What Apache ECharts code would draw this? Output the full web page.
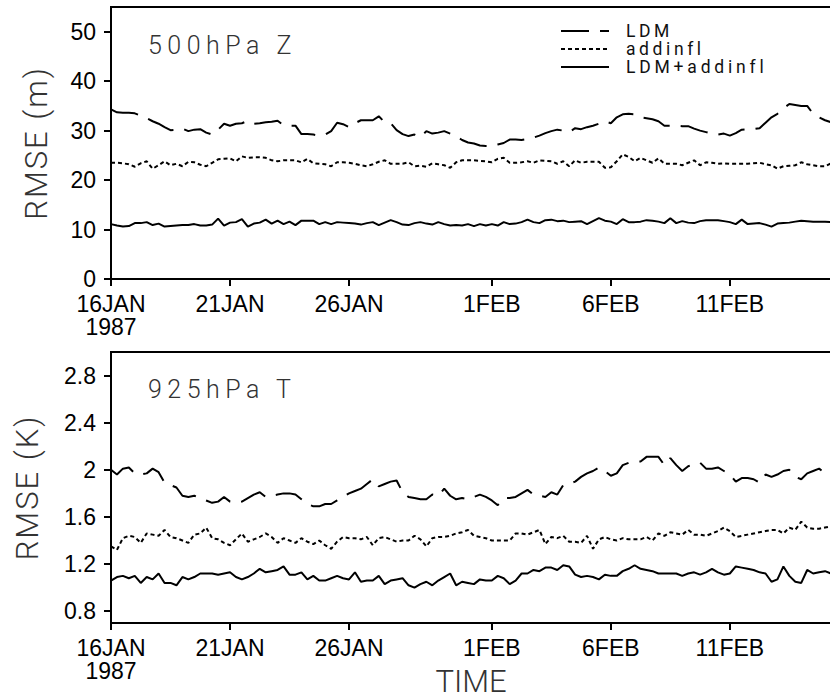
<!DOCTYPE html>
<html>
<head>
<meta charset="utf-8">
<script src="https://cdn.jsdelivr.net/npm/echarts@6/dist/echarts.min.js"></script>
<style>html,body{margin:0;padding:0;background:#fff;}#c{width:830px;height:698px;}</style>
</head>
<body>
<div id="c"></div>
<script>
// 6-hourly analysis times, 16JAN1987 00Z onward
const MON = ['JAN','FEB'];
const times = [];
for (let i = 0; i < 122; i++) {
  const d = new Date(Date.UTC(1987, 0, 16, 6 * i));
  times.push(String(d.getUTCHours()).padStart(2, '0') + 'Z' + d.getUTCDate() + MON[d.getUTCMonth()] + d.getUTCFullYear());
}
const tickTimes = ['00Z16JAN1987', '00Z21JAN1987', '00Z26JAN1987', '00Z1FEB1987', '00Z6FEB1987', '00Z11FEB1987'];
const tickLabels = ['16JAN\n1987', '21JAN', '26JAN', '1FEB', '6FEB', '11FEB'];

const zTicks = [0, 10, 20, 30, 40, 50];
const tTicks = [0.8, 1.2, 1.6, 2.0, 2.4, 2.8];

// 500hPa Z RMSE (m)
const zLDM = [34.3,33.7,33.6,33.6,33.5,33.0,32.5,31.9,31.4,30.7,30.1,30.2,30.4,29.9,30.2,30.3,29.6,29.2,30.2,31.4,
  31.0,31.4,31.5,32.0,31.4,31.5,31.7,31.8,32.0,31.1,31.0,31.0,29.3,29.3,29.2,29.0,29.2,29.9,31.6,31.3,
  30.7,31.5,32.1,32.1,32.1,32.9,31.7,31.5,30.1,29.3,28.9,29.2,28.7,29.9,29.4,29.6,29.9,29.4,28.9,28.1,
  27.6,27.4,27.0,26.9,26.9,27.2,27.5,28.2,28.2,28.1,28.3,28.6,29.0,29.5,29.9,30.2,30.0,29.7,30.5,30.3,
  30.7,31.0,31.4,31.9,31.5,32.7,33.3,33.4,33.3,32.7,32.5,32.3,31.9,31.0,31.0,31.0,30.9,30.9,30.4,30.0,
  29.7,29.4,29.2,29.4,29.0,29.5,30.2,30.3,30.3,30.5,31.6,32.7,33.4,34.5,35.4,35.2,35.0,35.0,33.4,32.7,
  32.1,31.7];
const zAdd = [23.5,23.5,23.4,23.2,22.7,23.4,23.8,22.3,23.0,23.8,23.0,23.3,22.8,23.7,23.6,23.1,22.8,23.5,24.2,24.3,
  24.4,23.8,24.8,24.5,24.6,24.6,24.5,24.0,23.8,24.0,24.0,24.0,23.6,24.3,23.4,23.3,23.2,22.8,23.6,23.6,
  23.5,23.3,23.0,22.8,23.2,23.7,24.0,23.3,23.3,23.3,23.6,22.8,22.9,22.7,23.4,23.2,23.0,22.5,23.6,24.0,
  24.0,24.0,23.9,23.8,23.6,24.3,24.5,23.5,23.5,23.6,23.8,23.5,24.0,23.9,23.8,23.3,23.8,22.8,24.0,23.5,
  23.7,23.7,23.7,22.5,22.6,23.8,25.2,24.7,23.8,24.5,24.0,23.5,24.4,23.3,23.3,23.3,23.0,23.5,24.0,23.0,
  23.6,23.5,23.3,23.4,23.3,23.3,23.3,23.3,23.4,23.5,23.2,23.0,22.3,22.8,22.9,23.0,23.6,23.2,23.0,22.8,
  22.8,23.4];
const zBoth = [11.1,10.8,10.6,10.7,11.3,11.3,11.5,10.9,11.2,10.6,10.7,10.8,10.9,10.9,11.1,10.8,10.8,11.0,12.2,10.8,
  11.4,11.5,12.1,10.6,11.2,11.4,12.0,11.2,11.8,11.1,11.6,10.9,11.8,11.8,11.8,11.1,11.5,11.1,11.5,11.4,
  11.3,11.2,11.0,11.3,11.5,10.9,11.4,11.9,11.5,11.0,10.9,11.3,11.5,11.2,11.0,11.5,11.1,10.8,10.9,10.8,
  11.1,10.7,11.1,10.8,11.1,10.8,11.5,11.1,11.2,11.5,12.0,11.5,11.3,11.9,12.0,11.7,11.8,11.5,11.6,11.7,
  11.1,11.7,12.3,11.8,11.6,11.1,12.1,11.5,11.5,11.6,11.9,11.8,11.6,11.3,12.3,11.3,11.7,11.4,11.3,11.7,
  11.9,11.9,11.9,11.7,11.5,11.1,12.0,11.1,11.2,11.3,11.0,10.6,11.2,11.3,11.4,11.6,11.8,11.7,11.6,11.6,
  11.6,11.5];

// 925hPa T RMSE (K)
const tLDM = [2.00,1.96,2.01,2.02,1.97,1.96,1.97,2.01,1.98,1.89,1.87,1.85,1.78,1.77,1.78,1.76,1.74,1.72,1.73,1.77,
  1.73,1.72,1.73,1.76,1.79,1.81,1.77,1.78,1.79,1.80,1.80,1.79,1.75,1.71,1.69,1.69,1.71,1.71,1.74,1.77,
  1.80,1.82,1.84,1.88,1.92,1.86,1.88,1.90,1.91,1.81,1.77,1.76,1.75,1.75,1.79,1.78,1.84,1.78,1.75,1.76,
  1.75,1.77,1.79,1.77,1.74,1.70,1.76,1.76,1.77,1.80,1.83,1.79,1.78,1.77,1.81,1.79,1.87,1.88,1.90,1.94,
  1.97,1.99,2.02,1.99,1.95,1.97,2.04,2.06,2.07,2.07,2.11,2.11,2.11,2.04,2.10,2.04,1.99,2.03,2.05,2.06,
  2.01,2.01,2.02,1.99,1.96,1.90,1.93,1.93,1.92,1.89,1.96,1.94,1.96,1.99,2.00,1.94,1.92,1.97,1.99,2.01,
  1.97,1.98];
const tAdd = [1.35,1.32,1.42,1.44,1.43,1.38,1.46,1.45,1.44,1.49,1.43,1.42,1.40,1.38,1.45,1.46,1.51,1.42,1.41,1.38,
  1.36,1.41,1.46,1.39,1.41,1.43,1.46,1.43,1.38,1.42,1.40,1.38,1.42,1.39,1.37,1.40,1.36,1.33,1.39,1.43,
  1.42,1.42,1.41,1.43,1.36,1.42,1.43,1.41,1.39,1.40,1.40,1.44,1.41,1.35,1.42,1.43,1.43,1.44,1.46,1.47,
  1.49,1.44,1.43,1.42,1.40,1.40,1.40,1.40,1.46,1.46,1.45,1.47,1.49,1.37,1.43,1.42,1.44,1.39,1.39,1.38,
  1.44,1.33,1.41,1.43,1.41,1.40,1.42,1.41,1.41,1.41,1.43,1.40,1.46,1.44,1.47,1.46,1.45,1.49,1.45,1.45,
  1.44,1.46,1.48,1.51,1.48,1.43,1.44,1.45,1.46,1.47,1.48,1.49,1.49,1.46,1.51,1.49,1.56,1.51,1.50,1.50,
  1.51,1.52];
const tBoth = [1.06,1.09,1.10,1.08,1.10,1.04,1.09,1.07,1.12,1.04,1.04,1.02,1.09,1.07,1.09,1.12,1.12,1.12,1.11,1.12,
  1.13,1.09,1.07,1.09,1.12,1.16,1.13,1.14,1.15,1.18,1.11,1.11,1.13,1.07,1.10,1.06,1.06,1.08,1.10,1.08,
  1.07,1.13,1.05,1.06,1.06,1.10,1.03,1.06,1.07,1.08,1.02,1.00,1.03,1.05,1.02,1.06,1.09,1.12,1.02,1.05,
  1.04,1.03,1.07,1.06,1.06,1.10,1.08,1.03,1.06,1.12,1.12,1.15,1.14,1.17,1.17,1.15,1.19,1.18,1.11,1.09,
  1.10,1.09,1.07,1.11,1.10,1.10,1.14,1.16,1.19,1.16,1.15,1.14,1.12,1.12,1.12,1.12,1.10,1.12,1.13,1.11,
  1.13,1.16,1.13,1.11,1.12,1.18,1.17,1.16,1.15,1.13,1.12,1.05,1.07,1.18,1.10,1.05,1.04,1.15,1.12,1.13,
  1.14,1.12];

const LABEL_FONT = 'Liberation Sans';
const NAME_FONT = 'Roboto';
const isTick = (idx, val) => tickTimes.indexOf(val) >= 0;

function xAxisCfg(k) {
  return {
    type: 'category', gridIndex: k, data: times, boundaryGap: false,
    axisLine: { lineStyle: { color: '#000', width: 2 } },
    axisTick: { show: true, length: 7, interval: isTick, lineStyle: { color: '#000', width: 2 } },
    axisLabel: {
      interval: isTick, margin: 13, fontSize: 23, lineHeight: 23.5, color: '#000', fontFamily: LABEL_FONT,
      formatter: v => tickLabels[tickTimes.indexOf(v)]
    },
    splitLine: { show: false },
    name: k === 1 ? 'TIME' : '', nameLocation: 'middle', nameGap: 45, nameMoveOverlap: false,
    nameTextStyle: { fontSize: 31, lineHeight: 26, color: '#333', fontFamily: NAME_FONT, fontWeight: 300 }
  };
}
function yAxisCfg(k, min, max, ticks, name, gap, fmt) {
  return {
    type: 'value', gridIndex: k, min: min, max: max,
    axisLine: { show: true, lineStyle: { color: '#000', width: 2 } },
    axisTick: { show: true, length: 7, customValues: ticks, lineStyle: { color: '#000', width: 2 } },
    axisLabel: { customValues: ticks, margin: 15, fontSize: 23, lineHeight: 20, color: '#000', fontFamily: LABEL_FONT, formatter: fmt },
    splitLine: { show: false },
    name: name, nameLocation: 'middle', nameGap: gap, nameRotate: 90, nameMoveOverlap: false,
    nameTextStyle: { fontSize: 31, color: '#333', fontFamily: NAME_FONT, fontWeight: 300 }
  };
}
const styles = {
  LDM: { color: '#000', width: 2, type: [28, 11] },
  addinfl: { color: '#000', width: 2, type: [4, 3] },
  'LDM+addinfl': { color: '#000', width: 2, type: 'solid' }
};
function ser(name, k, data) {
  return {
    name: name, type: 'line', xAxisIndex: k, yAxisIndex: k, data: data,
    symbol: 'none', showSymbol: false, color: '#000', lineStyle: styles[name], z: 3
  };
}
function leg(name, top) {
  return {
    data: [name], left: 560, top: top, padding: 0, itemWidth: 48, itemHeight: 2,
    selectedMode: false,
    itemStyle: { opacity: 0 },
    lineStyle: { width: 2 },
    textStyle: { fontSize: 17.5, lineHeight: 17, color: '#111', fontFamily: NAME_FONT, padding: [0, 0, 0, 12] }
  };
}

const chart = echarts.init(document.getElementById('c'), null, { renderer: 'svg' });
chart.setOption({
  animation: false,
  backgroundColor: '#fff',
  title: [
    { text: '500hPa Z', left: 148, top: 33, padding: 0, textStyle: { fontSize: 25, fontWeight: 300, color: '#333', fontFamily: NAME_FONT } },
    { text: '925hPa T', left: 148, top: 377, padding: 0, textStyle: { fontSize: 25, fontWeight: 300, color: '#333', fontFamily: NAME_FONT } }
  ],
  legend: [leg('LDM', 22), leg('addinfl', 40), leg('LDM+addinfl', 58)],
  grid: [
    { left: 111, top: 7, right: -1, height: 272, show: true, borderColor: '#000', borderWidth: 2, outerBoundsMode: 'none' },
    { left: 111, top: 352, right: -1, height: 271, show: true, borderColor: '#000', borderWidth: 2, outerBoundsMode: 'none' }
  ],
  xAxis: [xAxisCfg(0), xAxisCfg(1)],
  yAxis: [
    yAxisCfg(0, 0, 55, zTicks, 'RMSE (m)', 59, v => String(v)),
    yAxisCfg(1, 0.7, 3.0, tTicks, 'RMSE (K)', 68, v => String(+v.toFixed(1)))
  ],
  series: [
    ser('LDM', 0, zLDM), ser('addinfl', 0, zAdd), ser('LDM+addinfl', 0, zBoth),
    ser('LDM', 1, tLDM), ser('addinfl', 1, tAdd), ser('LDM+addinfl', 1, tBoth)
  ]
});

// the original plotting font is widely spaced; widen those texts
const spacing = { '500hPa Z': 5.5, '925hPa T': 5.5, 'LDM': 3.6, 'addinfl': 3.6, 'LDM+addinfl': 3.8, 'RMSE (m)': 2, 'RMSE (K)': 2 };
function widen() {
  document.querySelectorAll('#c svg text').forEach(t => {
    const s = spacing[t.textContent];
    if (s !== undefined) t.style.letterSpacing = s + 'px';
  });
}
widen();
chart.on('finished', widen);
setTimeout(widen, 50);
setTimeout(widen, 300);
</script>
</body>
</html>
